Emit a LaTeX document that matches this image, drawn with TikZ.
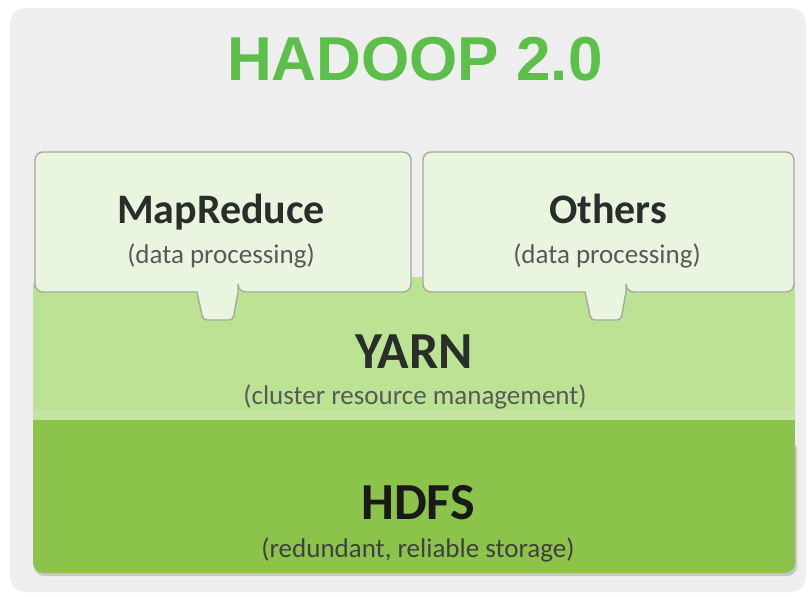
\documentclass[tikz,border=0pt]{standalone}
\usepackage{fontspec}
\setmainfont{Carlito}
\newfontfamily\titlefont{Liberation Sans}
\definecolor{panelgray}{HTML}{EEEEEE}
\definecolor{boxfill}{HTML}{E9F5DF}
\definecolor{boxline}{HTML}{A3AA9F}
\definecolor{yarnfill}{HTML}{BCE294}
\definecolor{hdfsfill}{HTML}{8BC34B}
\definecolor{titlegreen}{HTML}{5CBF4A}
\definecolor{darktext}{HTML}{2A2E2A}
\definecolor{subtext}{HTML}{575B57}
\tikzset{
  layerlbl/.style={anchor=base, inner sep=0pt, font=\fontsize{52}{60}\selectfont\bfseries, text=darktext},
  boxlbl/.style={anchor=base, inner sep=0pt, font=\fontsize{42}{50}\selectfont\bfseries, text=darktext},
  sublbl/.style={anchor=base, inner sep=0pt, font=\fontsize{27}{32}\selectfont, text=subtext},
  procbox/.style={fill=boxfill, draw=boxline, line width=1.4pt, rounded corners=8pt},
}
\begin{document}
\begin{tikzpicture}[x=1pt, y=-1pt]
\useasboundingbox (0,0) rectangle (812,597);
\fill[white] (0,0) rectangle (812,597);
% panel
\fill[panelgray, rounded corners=16pt] (10,8) rectangle (806,592);
% YARN layer
\fill[yarnfill, rounded corners=8pt] (33,277) rectangle (795,440);
% HDFS layer
\fill[black!22, rounded corners=10pt] (34,440) rectangle (797,576);
\fill[hdfsfill, rounded corners=10pt] (33,440) rectangle (795,573);
\fill[hdfsfill] (33,420) rectangle (795,460);
\fill[white, opacity=0.12] (33,410) rectangle (795,420);
% MapReduce box with tab
\draw[procbox] (35,292) -- (35,152) -- (411,152) -- (411,292) -- (238,292)
  [sharp corners] -- (238,292) [rounded corners=4pt] -- (233,320) -- (203,320) [sharp corners] -- (197,292)
  [rounded corners=8pt] -- (35,292) -- cycle;
% Others box with tab
\draw[procbox] (423,292) -- (423,152) -- (794,152) -- (794,292) -- (626,292)
  [sharp corners] -- (626,292) [rounded corners=4pt] -- (621,320) -- (591,320) [sharp corners] -- (585,292)
  [rounded corners=8pt] -- (423,292) -- cycle;
% title
\node[anchor=base, inner sep=0pt, font=\titlefont\bfseries\fontsize{62}{70}\selectfont, text=titlegreen] (title) at (415,80) {HADOOP 2.0};
% labels
\node[boxlbl] (mr) at (221,223) {MapReduce};
\node[sublbl] (mrsub) at (221,263) {(data processing)};
\node[boxlbl] (oth) at (608,223) {Others};
\node[sublbl] (othsub) at (607,263) {(data processing)};
\node[layerlbl] (yarn) at (414,368) {YARN};
\node[sublbl] (yarnsub) at (415,404) {(cluster resource management)};
\node[layerlbl, text=black!90] (hdfs) at (418,519) {HDFS};
\node[sublbl, text=black!75] (hdfssub) at (418,557) {(redundant, reliable storage)};
\end{tikzpicture}
\end{document}
